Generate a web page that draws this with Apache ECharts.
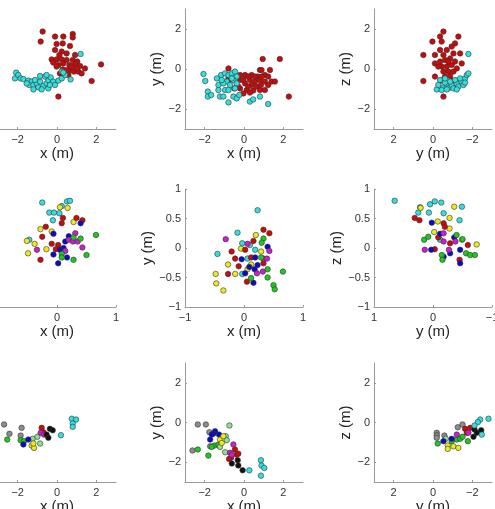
<!DOCTYPE html>
<html>
<head>
<meta charset="utf-8">
<script src="https://cdn.jsdelivr.net/npm/echarts@6/dist/echarts.min.js"></script>
<style>
  html, body { margin: 0; padding: 0; background: #fff; }
  #chart { width: 495px; height: 509px; }
</style>
</head>
<body>
<div id="chart"></div>
<script>
// ---- data (metres), one list per panel and colour ----
// row 1: two groups
const p1Red = [[-0.73,1.87],[-0.83,1.37],[-0.10,1.62],[0.32,1.62],[0.80,1.75],[0.80,1.58],[-0.02,1.25],[0.29,1.28],[0.66,1.15],[-0.10,0.95],[0.24,0.87],[0.12,0.70],[0.49,0.78],[0.92,0.70],[-0.27,0.48],[-0.02,0.48],[0.24,0.48],[0.49,0.45],[0.80,0.45],[1.03,0.37],[-0.19,0.32],[0.07,0.20],[0.32,0.28],[0.63,0.20],[0.92,0.25],[1.17,0.15],[1.42,0.03],[0.66,-0.05],[0.86,-0.13],[1.08,-0.13],[0.37,-0.22],[0.58,-0.30],[1.25,-0.22],[2.24,0.23],[1.76,-0.60],[0.07,-1.38],[0.29,-0.02],[0.75,0.12],[1.00,0.03],[-0.02,0.12],[0.49,-0.05],[0.15,-0.22]];
const p1Cyan = [[-2.08,-0.18],[-2.14,-0.47],[-1.97,-0.30],[-1.85,-0.47],[-1.71,-0.50],[-1.46,-0.58],[-1.29,-0.63],[-1.41,-0.80],[-1.20,-0.80],[-1.03,-0.72],[-0.86,-0.63],[-0.95,-0.92],[-0.69,-0.85],[-0.53,-0.72],[-0.44,-0.55],[-0.32,-0.42],[-0.61,-0.38],[-0.86,-0.35],[-0.19,-0.63],[0.07,-0.58],[0.24,-0.47],[0.41,-0.30],[0.24,-0.13],[0.69,-0.52],[-1.20,-1.02],[-0.78,-1.02],[-0.44,-0.97],[-0.36,-0.80],[-0.10,-0.80],[-1.54,-0.72],[-1.12,-0.55],[-0.53,-0.30],[1.20,0.75],[0.32,-0.18]];
const p2Red = [[-0.79,0.03],[0.95,0.50],[1.82,0.50],[0.81,-0.05],[1.32,-0.05],[0.05,-0.30],[0.39,-0.30],[0.69,-0.38],[1.06,-0.30],[0.30,-0.55],[0.56,-0.63],[0.81,-0.55],[1.06,-0.63],[1.40,-0.63],[1.57,-0.63],[-0.20,-0.55],[0.05,-0.72],[0.39,-0.80],[0.64,-0.88],[-0.20,-0.97],[0.14,-1.05],[0.47,-1.08],[1.06,-1.05],[-0.03,-1.22],[0.30,-1.18],[1.23,-0.80],[2.28,-1.38],[-0.20,-0.30],[-0.71,-0.52],[-0.79,-0.47],[0.22,-0.88],[0.86,-0.80],[-0.49,-0.97],[-0.03,-0.55],[0.56,-0.38],[0.22,-0.38],[0.89,-0.38],[1.23,-0.38],[-0.29,-0.88],[0.81,-1.05],[0.89,-0.05]];
const p2Cyan = [[-2.06,-0.25],[-1.97,-0.60],[-1.84,-1.13],[-1.84,-1.38],[-1.67,-1.30],[-1.38,-0.47],[-1.30,-0.80],[-1.30,-1.05],[-1.22,-1.38],[-1.05,-1.38],[-1.16,-0.30],[-0.96,-0.22],[-0.79,-0.30],[-0.62,-0.22],[-0.46,-0.13],[-0.37,-0.38],[-0.54,-0.55],[-0.88,-0.63],[-1.05,-0.72],[-0.71,-0.80],[-0.37,-0.72],[-0.96,-1.05],[-0.79,-1.05],[-0.46,-0.97],[-0.54,-1.38],[-0.37,-1.47],[-0.24,-1.30],[-0.79,-1.67],[0.30,-1.63],[0.47,-1.52],[0.81,-1.38],[1.23,-1.75],[-1.13,-0.55],[-0.62,-0.47]];
const p3Red = [[-0.53,1.87],[-0.36,1.62],[-0.44,1.37],[0.03,1.37],[-1.29,1.62],[-1.12,1.28],[0.49,0.70],[-0.10,0.70],[-0.70,0.95],[-1.04,0.78],[-0.95,1.12],[-0.53,0.70],[-0.10,0.28],[-0.36,0.37],[-0.61,0.45],[-0.87,0.53],[-1.12,0.37],[-1.46,0.28],[-0.44,0.12],[-0.70,0.12],[-0.95,0.20],[-1.21,0.03],[-0.53,-0.13],[-0.78,-0.13],[-1.04,-0.13],[-0.61,-0.38],[-0.87,-0.35],[-0.10,-0.38],[0.49,-0.60],[-0.53,-1.38],[-0.27,0.12],[-0.78,0.37],[-0.36,0.95],[-0.95,-0.58],[-0.44,-0.58],[-1.38,0.78]];
const p3Cyan = [[-1.80,0.75],[-0.19,-1.02],[-0.27,-0.80],[-0.36,-0.55],[-0.53,-0.92],[-0.44,-1.05],[-0.70,-0.80],[-0.78,-0.97],[-0.95,-0.80],[-1.04,-0.97],[-1.21,-0.72],[-1.29,-0.88],[-1.46,-0.63],[-1.55,-0.80],[-1.63,-0.47],[-1.72,-0.30],[-1.80,-0.22],[-1.38,-0.47],[-1.12,-0.55],[-0.87,-0.63],[-0.61,-0.68],[-0.70,-1.02],[-1.21,-1.02],[-1.63,-0.68],[-0.61,-0.47]];

// row 2: six groups
const p4Cyan = [[-0.25,0.77],[0.08,0.71],[0.17,0.79],[0.22,0.80],[-0.13,0.60],[-0.05,0.60],[0.04,0.59],[-0.07,0.47],[-0.47,0.14]];
const p4Yellow = [[0.05,0.69],[0.18,0.68],[0.28,0.44],[-0.28,0.32],[-0.09,0.28],[-0.51,0.12],[-0.38,0.07],[-0.18,-0.02],[-0.49,-0.09]];
const p4Red = [[0.10,0.51],[0.33,0.51],[0.43,0.47],[0.08,0.42],[-0.19,0.36],[-0.25,0.19],[-0.09,0.07],[0.02,0.05],[-0.02,-0.02],[-0.28,-0.20]];
const p4Blue = [[0.40,0.42],[-0.06,0.24],[0.20,0.20],[0.14,0.11],[0.05,-0.03],[-0.06,-0.11],[0.17,-0.16],[0.02,-0.26],[0.11,0.00]];
const p4Magenta = [[0.31,0.25],[0.20,0.14],[0.27,0.11],[0.35,0.11],[0.43,0.01],[-0.34,-0.03],[0.14,-0.05]];
const p4Green = [[0.66,0.22],[0.28,0.18],[0.40,0.16],[0.08,-0.10],[0.08,-0.16],[0.28,-0.20],[0.50,-0.12]];
const p5Cyan = [[0.23,0.64],[-0.11,0.26],[-0.03,0.08],[0.10,0.05],[0.19,-0.03],[-0.45,-0.10],[0.06,-0.18],[-0.03,-0.44]];
const p5Yellow = [[0.20,0.22],[-0.05,-0.01],[0.29,-0.06],[-0.27,-0.28],[0.12,-0.28],[0.06,-0.36],[-0.15,-0.44],[-0.48,-0.44],[-0.47,-0.60],[-0.35,-0.72]];
const p5Red = [[0.33,0.31],[0.43,0.25],[0.16,0.12],[0.02,-0.03],[-0.21,-0.06],[-0.15,-0.18],[0.12,-0.16],[-0.09,-0.31],[-0.27,-0.44],[0.05,-0.57],[0.33,-0.26]];
const p5Blue = [[0.40,0.02],[0.19,-0.16],[0.09,-0.32],[0.18,-0.36],[0.02,-0.43],[0.16,-0.59],[-0.04,-0.19],[0.23,-0.29]];
const p5Magenta = [[-0.31,0.15],[0.06,0.07],[0.43,-0.05],[0.33,-0.18],[0.39,-0.18],[0.32,-0.40],[0.22,-0.43]];
const p5Green = [[0.33,0.16],[0.30,0.09],[0.29,-0.16],[0.40,-0.36],[0.66,-0.40],[0.40,-0.50],[0.50,-0.63],[0.52,-0.70],[0.12,-0.51]];
const p6Cyan = [[0.65,0.80],[0.25,0.60],[0.22,0.69],[0.05,0.74],[-0.03,0.79],[-0.14,0.77],[-0.18,0.59],[-0.49,0.70],[-0.45,0.47],[-0.12,0.14],[0.07,0.60]];
const p6Yellow = [[0.21,0.68],[-0.36,0.70],[-0.28,0.51],[-0.08,0.45],[-0.28,0.33],[-0.02,0.27],[-0.49,0.14],[-0.74,0.06]];
const p6Red = [[0.31,0.51],[0.23,0.47],[-0.18,0.42],[-0.20,0.36],[-0.09,0.18],[-0.29,0.08],[-0.59,0.05],[-0.03,-0.02],[-0.45,-0.20]];
const p6Blue = [[0.02,0.43],[-0.12,0.24],[-0.36,0.18],[0.03,-0.03],[-0.46,-0.03],[-0.29,-0.09],[-0.18,-0.15],[-0.46,-0.26]];
const p6Magenta = [[-0.18,0.25],[-0.38,0.11],[-0.18,0.11],[0.14,-0.03],[-0.27,-0.03]];
const p6Green = [[0.15,0.14],[0.08,0.19],[-0.40,0.22],[-0.50,0.15],[-0.15,-0.12],[-0.16,-0.20],[-0.56,-0.09],[-0.63,-0.12],[-0.71,-0.12]];

// row 3: nine groups
const p7Grey = [[-2.69,-0.10],[-2.42,-0.57],[-1.80,-0.27],[-1.85,-0.66]];
const p7Green = [[-2.53,-0.86],[-1.85,-0.89],[-1.68,-0.94]];
const p7Light = [[-1.24,-0.82],[-1.00,-0.72],[-0.86,-1.06]];
const p7Blue = [[-1.71,-1.11],[-1.46,-0.86]];
const p7Yellow = [[-1.29,-1.16],[-1.17,-1.28],[-1.20,-1.06]];
const p7Red = [[-0.78,-0.27],[-0.69,-0.49]];
const p7Magenta = [[-0.83,-0.52],[-0.66,-0.61]];
const p7Black = [[-0.36,-0.32],[-0.22,-0.39],[-0.53,-0.61],[-0.44,-0.77]];
const p7Cyan = [[0.75,0.19],[0.97,0.15],[0.80,-0.05],[0.80,-0.22],[0.20,-0.64]];
const p8Grey = [[-2.35,-0.10],[-1.94,-0.10],[-1.76,-0.49],[-2.62,-1.41],[-1.72,-1.20]];
const p8Green = [[-2.35,-1.36],[-1.81,-1.67],[-1.50,-1.16],[-1.30,-1.11],[-1.64,-1.23]];
const p8Light = [[-0.74,-0.15],[-0.93,-0.69],[-0.88,-0.89],[-1.22,-1.23],[-0.96,-1.50]];
const p8Blue = [[-1.47,-0.44],[-1.55,-0.56],[-1.27,-0.61],[-1.72,-0.86],[-1.64,-0.61]];
const p8Yellow = [[-1.22,-0.86],[-1.05,-0.69],[-1.13,-1.03]];
const p8Red = [[-0.46,-1.36],[-0.37,-1.62],[-0.29,-1.57],[-0.66,-1.78],[-0.76,-1.84]];
const p8Magenta = [[-0.54,-1.11],[-0.71,-1.53],[-0.62,-1.62]];
const p8Black = [[-0.62,-2.07],[-0.32,-1.90],[-0.29,-2.17],[-0.07,-2.41]];
const p8Cyan = [[0.27,-2.41],[0.86,-1.90],[0.89,-2.17],[1.03,-2.29],[0.86,-2.68]];
const p9Grey = [[-0.19,-0.52],[-0.19,-0.64],[-0.19,-0.77],[-0.58,-0.66],[-1.26,-0.24],[-1.50,-0.10]];
const p9Green = [[-0.24,-1.06],[-0.95,-0.94],[-1.21,-0.86],[-1.38,-0.82],[-1.77,-0.94],[-1.50,-0.72]];
const p9Light = [[-0.65,-0.82]];
const p9Blue = [[-0.53,-0.94],[-0.95,-0.82]];
const p9Yellow = [[-0.75,-1.16],[-0.75,-1.33],[-1.04,-1.20],[-1.29,-1.28]];
const p9Red = [[-1.63,-0.32],[-1.89,-0.27],[-1.72,-0.52]];
const p9Magenta = [[-1.21,-0.61],[-1.80,-0.52]];
const p9Black = [[-2.11,-0.35],[-2.45,-0.39],[-2.23,-0.52],[-2.06,-0.72]];
const p9Cyan = [[-2.40,0.15],[-2.28,0.02],[-2.82,0.19],[-2.11,-0.15],[-2.48,-0.61]];

// tick labels
const ticksWide = [-2, 0, 2];
const ticksUnit = [-1, 0, 1];
const ticksUnitCut = [0, 1];      // the -1 label of the first column falls outside the picture
const ticksHalf = [-1, -0.5, 0, 0.5, 1];

// ---- colours ----
const C = {
  red: '#cc0a0a', cyan: '#33dede', yellow: '#eaea1e', blue: '#0a0ac8',
  magenta: '#cc1ecc', green: '#1ec81e', light: '#8ee08e', grey: '#8c8c8c', black: '#111111'
};

const panels = [
  { sets: [[p1Red, 'red'], [p1Cyan, 'cyan']], xn: 'x (m)', yn: 'z (m)', range: 3, ticks: ticksWide, inv: false },
  { sets: [[p2Red, 'red'], [p2Cyan, 'cyan']], xn: 'x (m)', yn: 'y (m)', range: 3, ticks: ticksWide, inv: false },
  { sets: [[p3Red, 'red'], [p3Cyan, 'cyan']], xn: 'y (m)', yn: 'z (m)', range: 3, ticks: ticksWide, inv: true },
  { sets: [[p4Cyan, 'cyan'], [p4Yellow, 'yellow'], [p4Red, 'red'], [p4Blue, 'blue'], [p4Magenta, 'magenta'], [p4Green, 'green']], xn: 'x (m)', yn: 'z (m)', range: 1, ticks: ticksUnitCut, yticks: ticksHalf, inv: false },
  { sets: [[p5Cyan, 'cyan'], [p5Yellow, 'yellow'], [p5Red, 'red'], [p5Blue, 'blue'], [p5Magenta, 'magenta'], [p5Green, 'green']], xn: 'x (m)', yn: 'y (m)', range: 1, ticks: ticksUnit, yticks: ticksHalf, inv: false },
  { sets: [[p6Cyan, 'cyan'], [p6Yellow, 'yellow'], [p6Red, 'red'], [p6Blue, 'blue'], [p6Magenta, 'magenta'], [p6Green, 'green']], xn: 'y (m)', yn: 'z (m)', range: 1, ticks: ticksUnit, yticks: ticksHalf, inv: true },
  { sets: [[p7Grey, 'grey'], [p7Green, 'green'], [p7Light, 'light'], [p7Blue, 'blue'], [p7Yellow, 'yellow'], [p7Red, 'red'], [p7Magenta, 'magenta'], [p7Black, 'black'], [p7Cyan, 'cyan']], xn: 'x (m)', yn: 'z (m)', range: 3, ticks: ticksWide, inv: false },
  { sets: [[p8Grey, 'grey'], [p8Green, 'green'], [p8Light, 'light'], [p8Blue, 'blue'], [p8Yellow, 'yellow'], [p8Red, 'red'], [p8Magenta, 'magenta'], [p8Black, 'black'], [p8Cyan, 'cyan']], xn: 'x (m)', yn: 'y (m)', range: 3, ticks: ticksWide, inv: false },
  { sets: [[p9Grey, 'grey'], [p9Green, 'green'], [p9Light, 'light'], [p9Blue, 'blue'], [p9Yellow, 'yellow'], [p9Red, 'red'], [p9Magenta, 'magenta'], [p9Black, 'black'], [p9Cyan, 'cyan']], xn: 'y (m)', yn: 'z (m)', range: 3, ticks: ticksWide, inv: true }
];

// grid boxes (px)
const colLeft = [-2, 185, 374];
const rowTop = [9, 189, 363];
const rowH = [120, 118, 119];
const yNameGap = [19, 29, 19];

const fmt = v => String(v).replace('-', '\u2212');
const FONT = 'Liberation Sans, Arial, sans-serif';

const grid = [], xAxis = [], yAxis = [], series = [];
panels.forEach((p, i) => {
  const r = Math.floor(i / 3), c = i % 3;
  grid.push({ left: colLeft[c], top: rowTop[r], width: 118, height: rowH[r], containLabel: false, outerBoundsMode: 'none' });
  const axisCommon = {
    type: 'value', gridIndex: i, min: -p.range, max: p.range,
    nameLocation: 'middle',
    nameTextStyle: { fontFamily: FONT, fontSize: 15, color: '#262626' },
    axisLine: { show: true, onZero: false, lineStyle: { color: '#9a9a9a', width: 1 } },
    splitLine: { show: false }
  };
  xAxis.push(Object.assign({}, axisCommon, {
    name: p.xn, nameGap: 15, inverse: p.inv,
    axisTick: { inside: true, length: 2, lineStyle: { color: '#9a9a9a' }, customValues: p.ticks },
    axisLabel: { fontFamily: FONT, fontSize: 11, color: '#333', margin: 5, customValues: p.ticks, formatter: fmt }
  }));
  const yt = p.yticks || p.ticks;
  yAxis.push(Object.assign({}, axisCommon, {
    name: p.yn, nameGap: yNameGap[r],
    axisTick: { inside: true, length: 2, lineStyle: { color: '#9a9a9a' }, customValues: yt },
    axisLabel: { fontFamily: FONT, fontSize: 11, color: '#333', margin: 4, customValues: yt, formatter: fmt }
  }));
  p.sets.forEach(([pts, col]) => {
    series.push({
      type: 'scatter', xAxisIndex: i, yAxisIndex: i, data: pts,
      symbolSize: 5.5, silent: true,
      itemStyle: { color: C[col], borderColor: '#333', borderWidth: 0.6, opacity: 1 }
    });
  });
});

const chart = echarts.init(document.getElementById('chart'), null, { renderer: 'canvas' });
chart.setOption({ animation: false, backgroundColor: '#fff', grid, xAxis, yAxis, series });
</script>
</body>
</html>
